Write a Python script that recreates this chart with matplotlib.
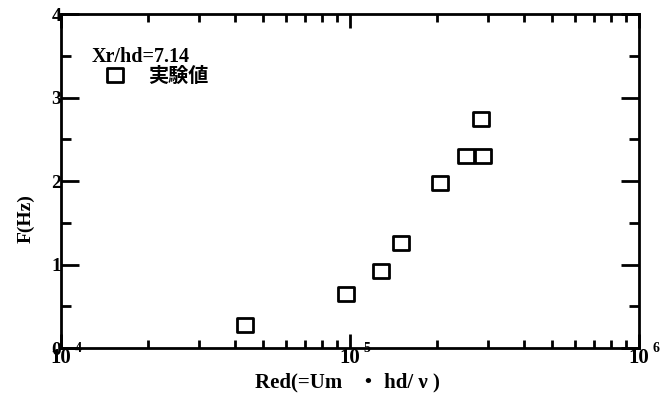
import matplotlib
matplotlib.use('Agg')
import matplotlib.pyplot as plt
from matplotlib import transforms
from matplotlib.path import Path
from matplotlib.ticker import LogLocator, MultipleLocator, NullFormatter, FixedLocator

# データ
re_d = [43300, 96600, 128000, 150000, 205000, 251000, 288000, 283000]
freq = [0.28, 0.65, 0.92, 1.26, 1.98, 2.30, 2.30, 2.74]
x_exp = [4, 5, 6]
y_ticks = [0, 1, 2, 3, 4]
serie_label = '実験値'
cond_label = 'Xr/hd=7.14'

plt.rcParams['font.family'] = ['Liberation Serif', 'Noto Sans CJK JP']
plt.rcParams['font.weight'] = 'bold'

# 横長の四角マーカー
box = Path([(-0.6, -0.5), (0.6, -0.5), (0.6, 0.5), (-0.6, 0.5), (-0.6, -0.5)],
           [Path.MOVETO, Path.LINETO, Path.LINETO, Path.LINETO, Path.CLOSEPOLY])

fig = plt.figure(figsize=(6.69, 3.96), dpi=100)
ax = fig.add_axes([0.0912, 0.1212, 0.8640, 0.8434])
ax.plot(re_d, freq, linestyle='none', marker=box, markersize=11.5,
        mfc='none', mec='black', mew=2, label=serie_label)

ax.set_xscale('log')
ax.set_xlim(10 ** x_exp[0], 10 ** x_exp[-1])
ax.set_ylim(y_ticks[0], y_ticks[-1])
ax.xaxis.set_major_locator(FixedLocator([10 ** e for e in x_exp]))
ax.xaxis.set_minor_locator(LogLocator(base=10, subs=range(2, 10)))
ax.xaxis.set_major_formatter(NullFormatter())
ax.xaxis.set_minor_formatter(NullFormatter())
ax.yaxis.set_major_locator(FixedLocator(y_ticks))
ax.yaxis.set_minor_locator(MultipleLocator(0.5))

for s in ax.spines.values():
    s.set_linewidth(2)
ax.tick_params(which='both', direction='in', top=True, right=True, width=2, labelsize=14)
ax.xaxis.set_tick_params(which='major', length=10)
ax.xaxis.set_tick_params(which='minor', length=6)
ax.yaxis.set_tick_params(which='major', length=13, pad=0)
ax.yaxis.set_tick_params(which='minor', length=7)

# 10^n ラベル
trans = transforms.blended_transform_factory(ax.transData, ax.transAxes)
for e in x_exp:
    ax.text(10 ** e, 0, '10', transform=trans, ha='center', va='top', fontsize=15)
    t2 = transforms.offset_copy(trans, fig=fig, x=10, y=4, units='points')
    ax.text(10 ** e, 0, str(e), transform=t2, ha='left', va='top', fontsize=10)

fig.text(0.039, 0.449, 'F(Hz)', rotation=90, ha='center', va='center', fontsize=14)
fig.text(0.519, 0.035, 'Red(=Um   ・ hd/ ν )', ha='center', va='center', fontsize=15)

leg = ax.legend(title=cond_label, loc='upper left', bbox_to_anchor=(82 / 669, 1 - 37 / 396),
                bbox_transform=fig.transFigure, frameon=False, borderpad=0,
                labelspacing=0, handlelength=2.3, handletextpad=0.5, alignment='left',
                prop={'size': 14.5, 'weight': 'bold'},
                title_fontproperties={'size': 14.5, 'weight': 'bold'})

fig.savefig('out.png', dpi=100)
